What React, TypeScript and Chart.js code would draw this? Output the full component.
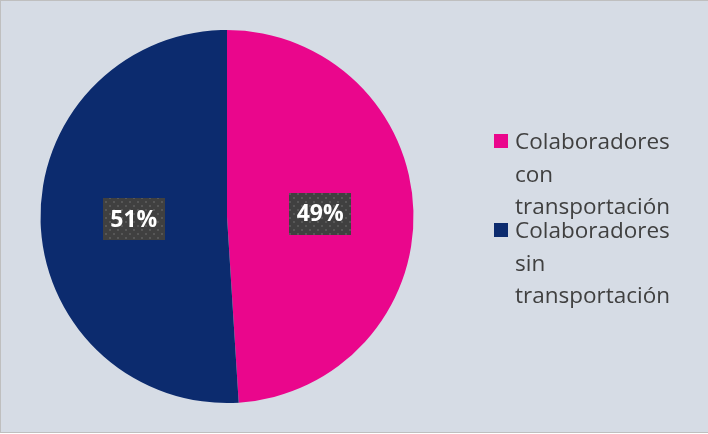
import React, { useEffect, useRef } from "react";
import { Chart, registerables } from "chart.js";

Chart.register(...registerables);

const categories: string[] = ["Colaboradores con transportación", "Colaboradores sin transportación"];
const legendLines: string[][] = [
  ["Colaboradores", "con", "transportación"],
  ["Colaboradores", "sin", "transportación"],
];
const values: number[] = [49, 51];
const colors: string[] = ["#EA068C", "#0C2B6E"];

function makePattern(ctx: CanvasRenderingContext2D): CanvasPattern | string {
  const c = document.createElement("canvas");
  c.width = 8;
  c.height = 8;
  const p = c.getContext("2d");
  if (!p) return "#404040";
  p.fillStyle = "#404040";
  p.fillRect(0, 0, 8, 8);
  p.fillStyle = "#575757";
  p.fillRect(1, 1, 2, 2);
  p.fillRect(5, 5, 2, 2);
  return ctx.createPattern(c, "repeat") || "#404040";
}

const labelPlugin = {
  id: "boxLabels",
  afterDatasetsDraw(chart: any) {
    const ctx: CanvasRenderingContext2D = chart.ctx;
    const meta = chart.getDatasetMeta(0);
    const pattern = makePattern(ctx);
    meta.data.forEach((arc: any, i: number) => {
      const pt = arc.getCenterPoint();
      const w = 62;
      const h = 42;
      ctx.save();
      ctx.fillStyle = pattern as any;
      ctx.fillRect(Math.round(pt.x - w / 2), Math.round(pt.y - h / 2), w, h);
      ctx.fillStyle = "#FFFFFF";
      ctx.font = "bold 23px 'Open Sans'";
      ctx.textAlign = "center";
      ctx.textBaseline = "middle";
      ctx.fillText(`${values[i]}%`, pt.x, pt.y + 1);
      ctx.restore();
    });
  },
};

const legendPlugin = {
  id: "customLegend",
  afterDraw(chart: any) {
    const ctx: CanvasRenderingContext2D = chart.ctx;
    const starts = [149, 238];
    const lineH = 32.5;
    ctx.save();
    categories.forEach((_, i) => {
      const base = starts[i];
      ctx.fillStyle = colors[i];
      ctx.fillRect(494, base - 15, 14, 14);
      ctx.fillStyle = "#404040";
      ctx.font = "22.5px 'Open Sans'";
      ctx.textAlign = "left";
      ctx.textBaseline = "alphabetic";
      legendLines[i].forEach((ln, k) => {
        ctx.fillText(ln, 515, base + k * lineH);
      });
    });
    ctx.restore();
  },
};

export default function App() {
  const ref = useRef<HTMLCanvasElement>(null);
  useEffect(() => {
    if (!ref.current) return;
    const chart = new Chart(ref.current, {
      type: "pie",
      data: {
        labels: categories,
        datasets: [
          {
            data: values,
            backgroundColor: colors,
            borderWidth: 0,
          },
        ],
      },
      options: {
        responsive: false,
        animation: false,
        layout: { padding: { left: 40, right: 294, top: 30, bottom: 31 } },
        plugins: {
          legend: { display: false },
          tooltip: { enabled: false },
        },
      },
      plugins: [labelPlugin, legendPlugin],
    });
    return () => chart.destroy();
  }, []);
  return (
    <div style={{ position: "absolute", left: 0, top: 0, width: 708, height: 434, overflow: "hidden" }}>
      <div
        style={{
          position: "absolute",
          left: 0,
          top: 0,
          width: 710,
          height: 433,
          boxSizing: "border-box",
          border: "1px solid #BFBFBF",
          background: "#D6DCE5",
        }}
      />
      <canvas ref={ref} width={708} height={434} style={{ position: "absolute", left: 0, top: 0 }} />
    </div>
  );
}
